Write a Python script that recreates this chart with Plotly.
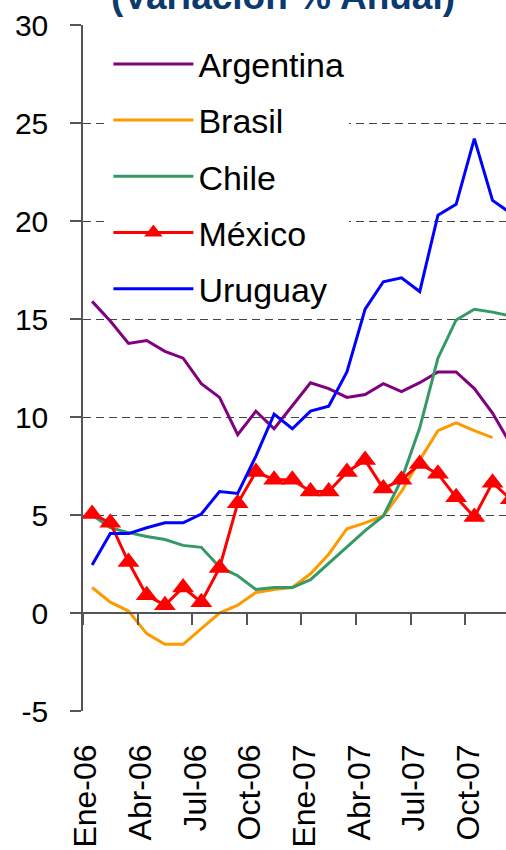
import plotly.graph_objects as go

months = ["Ene-06", "Feb-06", "Mar-06", "Abr-06", "May-06", "Jun-06", "Jul-06", "Ago-06",
          "Sep-06", "Oct-06", "Nov-06", "Dic-06", "Ene-07", "Feb-07", "Mar-07", "Abr-07",
          "May-07", "Jun-07", "Jul-07", "Ago-07", "Sep-07", "Oct-07", "Nov-07", "Dic-07"]
tick_labels = months[::3]
y_ticks = [-5, 0, 5, 10, 15, 20, 25, 30]
y_tick_text = ["-5", "0", "5", "10", "15", "20", "25", "30"]

argentina = [15.9, 14.9, 13.75, 13.9, 13.35, 13.0, 11.7, 11.0, 9.1, 10.3, 9.4, 10.6,
             11.75, 11.45, 11.0, 11.15, 11.7, 11.3, 11.75, 12.3, 12.3, 11.45, 10.2, 8.6]
brasil = [1.3, 0.55, 0.1, -1.05, -1.6, -1.6, -0.8, 0.0, 0.4, 1.05, 1.2, 1.3,
          2.0, 3.0, 4.3, 4.6, 4.95, 6.2, 7.8, 9.3, 9.7, 9.3, 8.95, None]
chile = [5.0, 4.35, 4.1, 3.9, 3.75, 3.45, 3.35, 2.35, 1.9, 1.2, 1.3, 1.3,
         1.7, 2.55, 3.4, 4.2, 4.95, 6.8, 9.45, 13.0, 14.95, 15.5, 15.35, 15.15]
mexico = [5.05, 4.6, 2.6, 0.9, 0.4, 1.3, 0.55, 2.3, 5.6, 7.2, 6.8, 6.8,
          6.2, 6.2, 7.2, 7.8, 6.35, 6.8, 7.6, 7.1, 5.9, 4.9, 6.65, 5.8]
uruguay = [2.45, 4.05, 4.05, 4.35, 4.6, 4.6, 5.05, 6.2, 6.1, 8.0, 10.15, 9.4,
           10.3, 10.55, 12.3, 15.5, 16.9, 17.1, 16.4, 20.3, 20.85, 24.2, 21.05, 20.4]

FONT = "Liberation Sans, Arial, sans-serif"

series = [
    ("Argentina", argentina, "#800080", None),
    ("Brasil", brasil, "#FF9900", None),
    ("Chile", chile, "#339966", None),
    ("México", mexico, "#FF0000", "triangle-up"),
    ("Uruguay", uruguay, "#0000FF", None),
]

fig = go.Figure()
for name, vals, color, sym in series:
    fig.add_trace(go.Scatter(
        x=months, y=vals, name=name, legendgroup=name,
        mode="lines+markers" if sym else "lines",
        line=dict(color=color, width=3),
        marker=dict(symbol=sym, size=19, color=color) if sym else None,
        connectgaps=False,
    ))

# helper axis carrying the zero line with category-boundary ticks
fig.add_trace(go.Scatter(x=[], y=[], xaxis="x2", showlegend=False, hoverinfo="skip"))

ymin, ymax = -5, 30
n = len(months)
xr = [-0.5, 22.74]

fig.update_layout(
    width=506, height=850,
    margin=dict(l=83, r=0, t=25, b=139, autoexpand=False),
    paper_bgcolor="white", plot_bgcolor="white",
    font=dict(family=FONT, color="black"),
    title=dict(text="<b>(Variación % Anual)</b>", x=283 / 506, xanchor="center",
               yref="container", y=1 - 9 / 850, yanchor="bottom",
               font=dict(size=37, color="#0B3A6F", family=FONT)),
    showlegend=True,
    legend=dict(x=0.06, xanchor="left", y=0.985, yanchor="top",
                bgcolor="white", borderwidth=0,
                font=dict(size=34, family=FONT),
                itemwidth=80, tracegroupgap=9, traceorder="grouped"),
    xaxis=dict(type="category", categoryorder="array", categoryarray=months,
               range=xr, tickmode="array", tickvals=tick_labels, ticktext=tick_labels,
               tickangle=-90, ticks="", showgrid=False, showline=False, zeroline=False,
               tickfont=dict(size=32, family=FONT), ticklabelstandoff=26,
               ticklabelshift=-6),
    xaxis2=dict(overlaying="x", anchor="free", position=(0 - ymin) / (ymax - ymin),
                side="bottom", type="linear", range=xr,
                tickmode="array", tickvals=[i - 0.5 for i in range(0, n, 3)],
                ticks="outside", ticklen=11, tickwidth=1.5, tickcolor="#555555",
                showticklabels=False, showline=True, linecolor="#555555", linewidth=1.5,
                showgrid=False, zeroline=False),
    yaxis=dict(range=[ymin, ymax], tickmode="array", tickvals=y_ticks, ticktext=y_tick_text,
               showgrid=True, gridcolor="#444444", gridwidth=1, griddash="8px,5px",
               showline=True, linecolor="#555555", linewidth=1.5,
               ticks="outside", ticklen=11, tickwidth=1.5, tickcolor="#555555",
               zeroline=False, tickfont=dict(size=30, family=FONT), ticklabelstandoff=16),
)

fig.write_html("out.html", config={"displayModeBar": False},
               post_script="document.body.style.margin='0';")
